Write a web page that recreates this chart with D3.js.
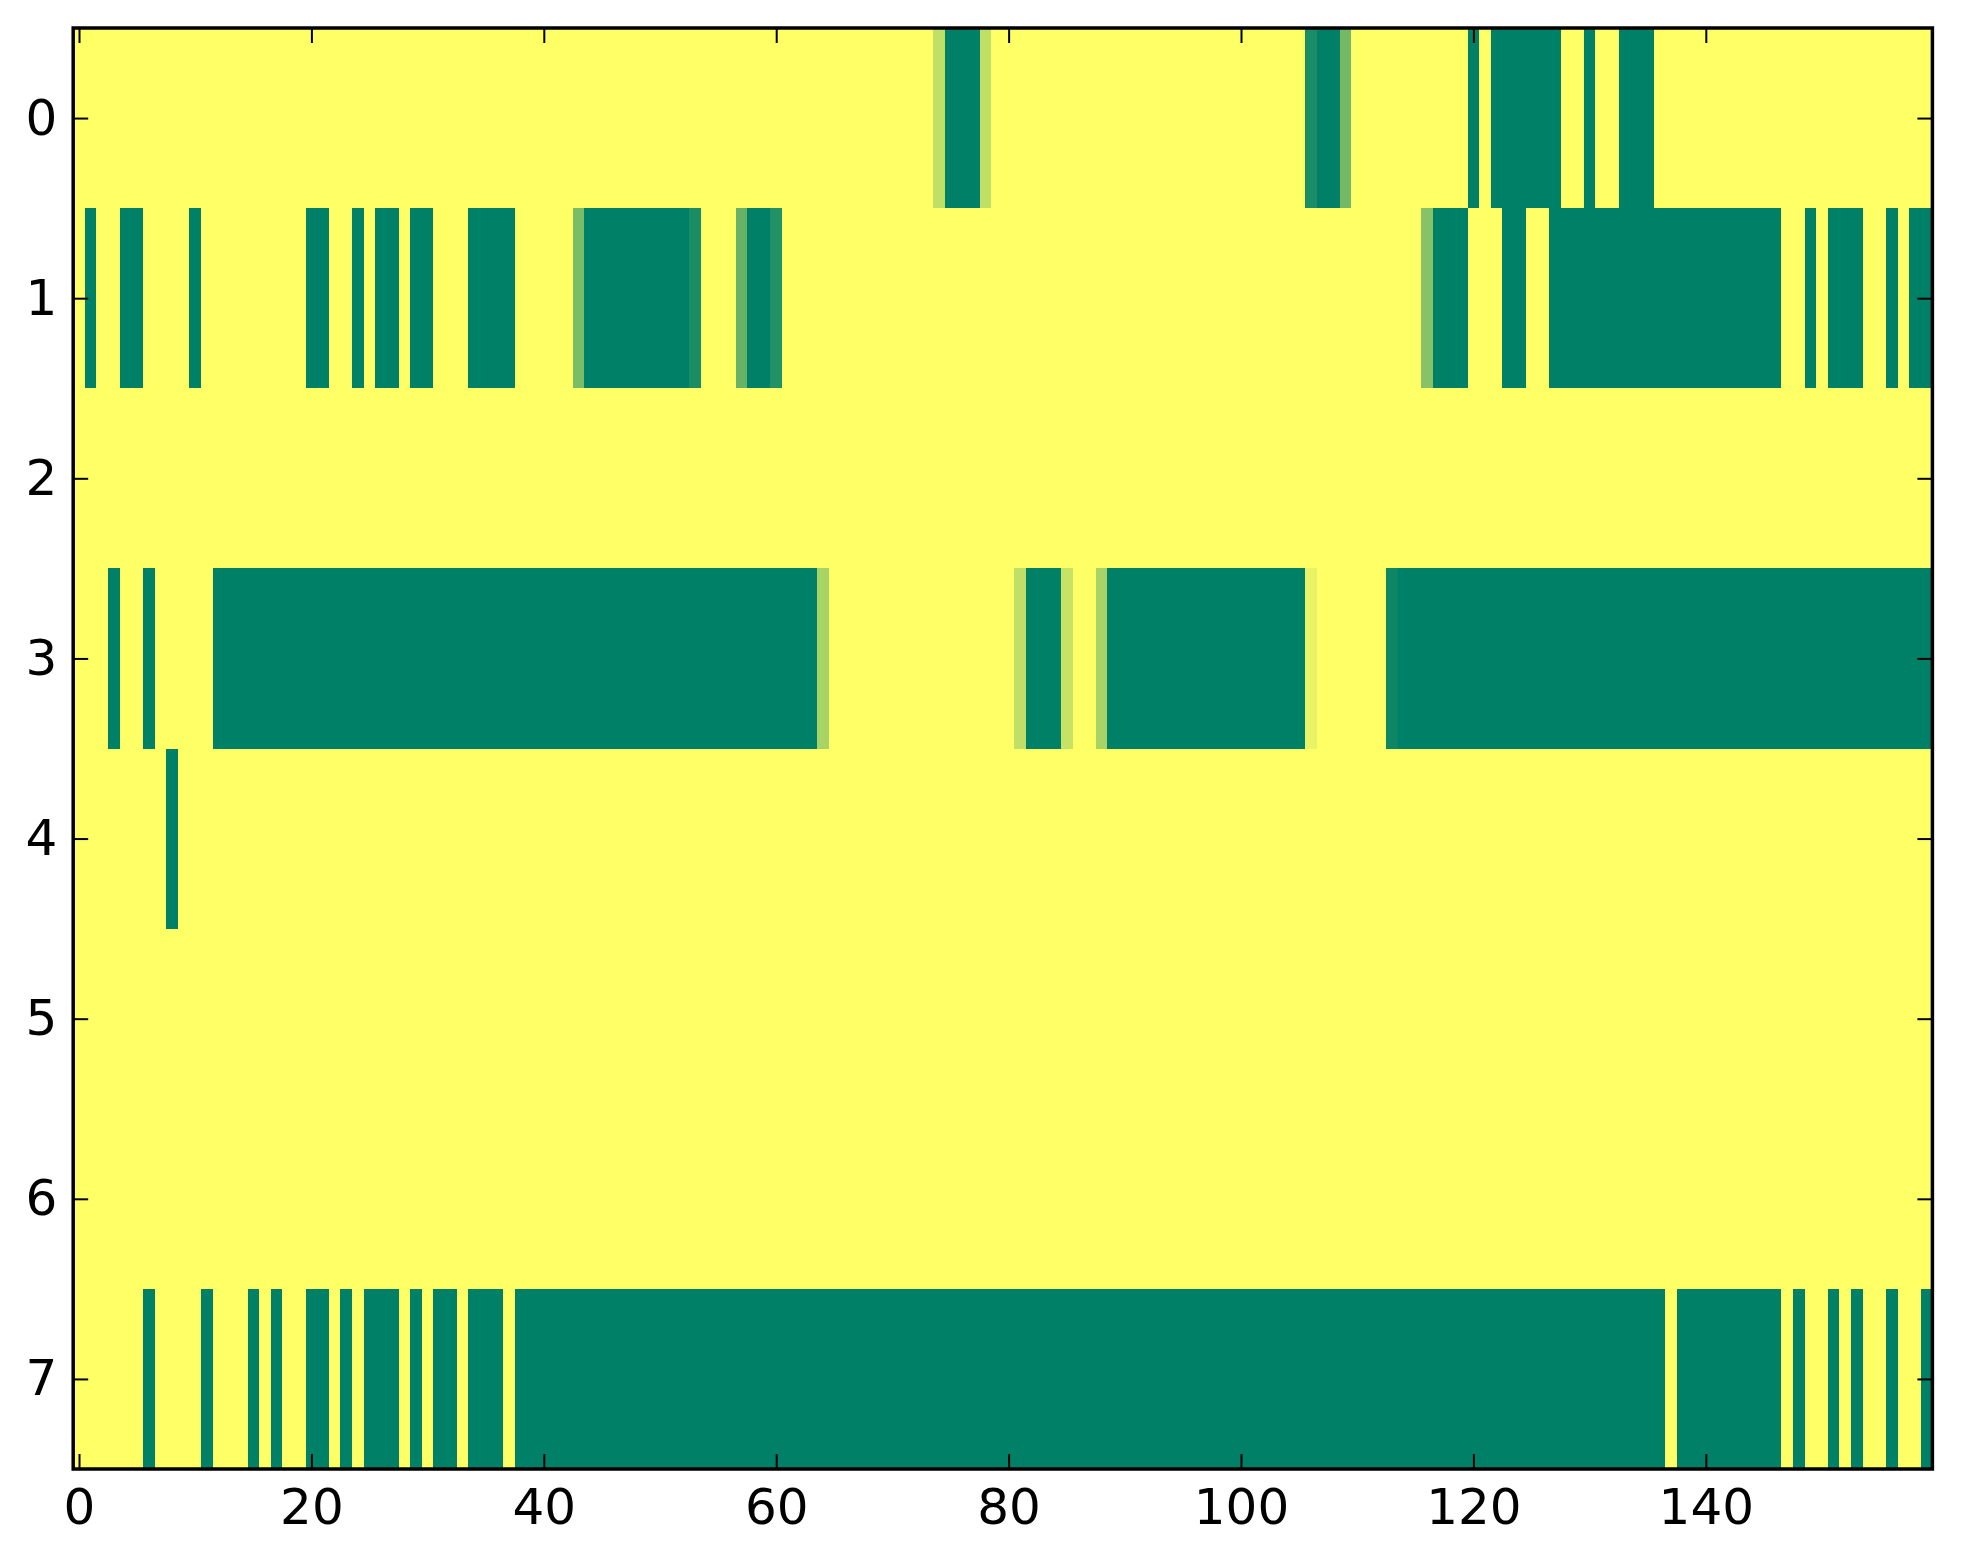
<!DOCTYPE html>
<html lang="en">
<head>
<meta charset="utf-8">
<title>imshow summer</title>
<script src="https://cdn.jsdelivr.net/npm/d3@7/dist/d3.min.js"></script>
<style>
  body { margin: 0; background: #fff; }
  .tick text { font-family: "DejaVu Sans", sans-serif; font-size: 50px; fill: #000; }
</style>
</head>
<body>
<script>
// one value per column (0 = green end, 1 = yellow end of the colormap)
var rowLabels = [0, 1, 2, 3, 4, 5, 6, 7];
var xTicks = [0, 20, 40, 60, 80, 100, 120, 140];

var row0 = [
  1,1,1,1,1,1,1,1,1,1,1,1,1,1,1,1,1,1,1,1,
  1,1,1,1,1,1,1,1,1,1,1,1,1,1,1,1,1,1,1,1,
  1,1,1,1,1,1,1,1,1,1,1,1,1,1,1,1,1,1,1,1,
  1,1,1,1,1,1,1,1,1,1,1,1,1,1,.75,0,0,0,.75,1,
  1,1,1,1,1,1,1,1,1,1,1,1,1,1,1,1,1,1,1,1,
  1,1,1,1,1,1,.1,0,0,.45,1,1,1,1,1,1,1,1,1,1,
  0,1,0,0,0,0,0,0,1,1,0,1,1,0,0,0,1,1,1,1,
  1,1,1,1,1,1,1,1,1,1,1,1,1,1,1,1,1,1,1,1
];
var row1 = [
  1,0,1,1,0,0,1,1,1,1,0,1,1,1,1,1,1,1,1,1,
  0,0,1,1,0,1,0,0,1,0,0,1,1,1,0,0,0,0,1,1,
  1,1,1,.48,0,0,0,0,0,0,0,0,0,.1,1,1,1,.4,0,0,
  .13,1,1,1,1,1,1,1,1,1,1,1,1,1,1,1,1,1,1,1,
  1,1,1,1,1,1,1,1,1,1,1,1,1,1,1,1,1,1,1,1,
  1,1,1,1,1,1,1,1,1,1,1,1,1,1,1,1,.53,0,0,0,
  1,1,1,0,0,1,1,0,0,0,0,0,0,0,0,0,0,0,0,0,
  0,0,0,0,0,0,0,1,1,0,1,0,0,0,1,1,0,1,0,0
];
var row2 = [
  1,1,1,1,1,1,1,1,1,1,1,1,1,1,1,1,1,1,1,1,
  1,1,1,1,1,1,1,1,1,1,1,1,1,1,1,1,1,1,1,1,
  1,1,1,1,1,1,1,1,1,1,1,1,1,1,1,1,1,1,1,1,
  1,1,1,1,1,1,1,1,1,1,1,1,1,1,1,1,1,1,1,1,
  1,1,1,1,1,1,1,1,1,1,1,1,1,1,1,1,1,1,1,1,
  1,1,1,1,1,1,1,1,1,1,1,1,1,1,1,1,1,1,1,1,
  1,1,1,1,1,1,1,1,1,1,1,1,1,1,1,1,1,1,1,1,
  1,1,1,1,1,1,1,1,1,1,1,1,1,1,1,1,1,1,1,1
];
var row3 = [
  1,1,1,0,1,1,0,1,1,1,1,1,0,0,0,0,0,0,0,0,
  0,0,0,0,0,0,0,0,0,0,0,0,0,0,0,0,0,0,0,0,
  0,0,0,0,0,0,0,0,0,0,0,0,0,0,0,0,0,0,0,0,
  0,0,0,0,.66,1,1,1,1,1,1,1,1,1,1,1,1,1,1,1,
  1,.75,0,0,0,.78,1,1,.66,0,0,0,0,0,0,0,0,0,0,0,
  0,0,0,0,0,0,.91,1,1,1,1,1,1,.05,0,0,0,0,0,0,
  0,0,0,0,0,0,0,0,0,0,0,0,0,0,0,0,0,0,0,0,
  0,0,0,0,0,0,0,0,0,0,0,0,0,0,0,0,0,0,0,0
];
var row4 = [
  1,1,1,1,1,1,1,1,0,1,1,1,1,1,1,1,1,1,1,1,
  1,1,1,1,1,1,1,1,1,1,1,1,1,1,1,1,1,1,1,1,
  1,1,1,1,1,1,1,1,1,1,1,1,1,1,1,1,1,1,1,1,
  1,1,1,1,1,1,1,1,1,1,1,1,1,1,1,1,1,1,1,1,
  1,1,1,1,1,1,1,1,1,1,1,1,1,1,1,1,1,1,1,1,
  1,1,1,1,1,1,1,1,1,1,1,1,1,1,1,1,1,1,1,1,
  1,1,1,1,1,1,1,1,1,1,1,1,1,1,1,1,1,1,1,1,
  1,1,1,1,1,1,1,1,1,1,1,1,1,1,1,1,1,1,1,1
];
var row5 = [
  1,1,1,1,1,1,1,1,1,1,1,1,1,1,1,1,1,1,1,1,
  1,1,1,1,1,1,1,1,1,1,1,1,1,1,1,1,1,1,1,1,
  1,1,1,1,1,1,1,1,1,1,1,1,1,1,1,1,1,1,1,1,
  1,1,1,1,1,1,1,1,1,1,1,1,1,1,1,1,1,1,1,1,
  1,1,1,1,1,1,1,1,1,1,1,1,1,1,1,1,1,1,1,1,
  1,1,1,1,1,1,1,1,1,1,1,1,1,1,1,1,1,1,1,1,
  1,1,1,1,1,1,1,1,1,1,1,1,1,1,1,1,1,1,1,1,
  1,1,1,1,1,1,1,1,1,1,1,1,1,1,1,1,1,1,1,1
];
var row6 = [
  1,1,1,1,1,1,1,1,1,1,1,1,1,1,1,1,1,1,1,1,
  1,1,1,1,1,1,1,1,1,1,1,1,1,1,1,1,1,1,1,1,
  1,1,1,1,1,1,1,1,1,1,1,1,1,1,1,1,1,1,1,1,
  1,1,1,1,1,1,1,1,1,1,1,1,1,1,1,1,1,1,1,1,
  1,1,1,1,1,1,1,1,1,1,1,1,1,1,1,1,1,1,1,1,
  1,1,1,1,1,1,1,1,1,1,1,1,1,1,1,1,1,1,1,1,
  1,1,1,1,1,1,1,1,1,1,1,1,1,1,1,1,1,1,1,1,
  1,1,1,1,1,1,1,1,1,1,1,1,1,1,1,1,1,1,1,1
];
var row7 = [
  1,1,1,1,1,1,0,1,1,1,1,0,1,1,1,0,1,0,1,1,
  0,0,1,0,1,0,0,0,1,0,1,0,0,1,0,0,0,1,0,0,
  0,0,0,0,0,0,0,0,0,0,0,0,0,0,0,0,0,0,0,0,
  0,0,0,0,0,0,0,0,0,0,0,0,0,0,0,0,0,0,0,0,
  0,0,0,0,0,0,0,0,0,0,0,0,0,0,0,0,0,0,0,0,
  0,0,0,0,0,0,0,0,0,0,0,0,0,0,0,0,0,0,0,0,
  0,0,0,0,0,0,0,0,0,0,0,0,0,0,0,0,0,1,0,0,
  0,0,0,0,0,0,0,1,0,1,1,0,1,0,1,1,0,1,1,0
];
var rows = [row0, row1, row2, row3, row4, row5, row6, row7];

(function() {
  var width = 1963, height = 1564;
  var plotLeft = 73.2, plotRight = 1932.4, plotTop = 28, plotBottom = 1469;
  var nCols = row0.length;

  var svg = d3.select("body").append("svg")
      .attr("width", width)
      .attr("height", height);

  var x = d3.scaleLinear().domain([-0.5, nCols - 0.5]).range([plotLeft, plotRight]);
  var y = d3.scaleLinear().domain([-0.5, rowLabels.length - 0.5]).range([plotTop, plotBottom]);
  // matplotlib "summer": (v, 0.5 + v/2, 0.4)
  var color = d3.scaleLinear().domain([0, 1]).range(["#008066", "#ffff66"]).interpolate(d3.interpolateRgb);

  var cells = [];
  rows.forEach(function(r, i) {
    r.forEach(function(v, j) { cells.push({row: i, col: j, v: v}); });
  });

  svg.append("g")
      .attr("shape-rendering", "crispEdges")
    .selectAll("rect")
    .data(cells)
    .enter().append("rect")
      .attr("x", function(d) { return x(d.col - 0.5); })
      .attr("y", function(d) { return y(d.row - 0.5); })
      .attr("width", function(d) { return x(d.col + 0.5) - x(d.col - 0.5) + 0.5; })
      .attr("height", function(d) { return y(d.row + 0.5) - y(d.row - 0.5) + 0.5; })
      .attr("fill", function(d) { return color(d.v); });

  // ticks point inward on all four sides
  var tickLen = 15;
  function styleAxis(g) {
    g.select(".domain").remove();
    g.selectAll(".tick line").attr("stroke", "#000").attr("stroke-width", 2);
  }

  svg.append("g")
      .attr("transform", "translate(0," + plotBottom + ")")
      .call(d3.axisBottom(x).tickValues(xTicks).tickSizeInner(-tickLen).tickSizeOuter(0).tickPadding(19))
      .call(styleAxis);
  svg.append("g")
      .attr("transform", "translate(0," + plotTop + ")")
      .call(d3.axisTop(x).tickValues(xTicks).tickSizeInner(-tickLen).tickSizeOuter(0).tickFormat(""))
      .call(styleAxis);
  svg.append("g")
      .attr("transform", "translate(" + plotLeft + ",0)")
      .call(d3.axisLeft(y).tickValues(rowLabels).tickSizeInner(-tickLen).tickSizeOuter(0).tickPadding(16))
      .call(styleAxis);
  svg.append("g")
      .attr("transform", "translate(" + plotRight + ",0)")
      .call(d3.axisRight(y).tickValues(rowLabels).tickSizeInner(-tickLen).tickSizeOuter(0).tickFormat(""))
      .call(styleAxis);

  svg.selectAll(".tick text").attr("font-family", null).attr("font-size", null);

  // frame
  svg.append("rect")
      .attr("x", plotLeft)
      .attr("y", plotTop)
      .attr("width", plotRight - plotLeft)
      .attr("height", plotBottom - plotTop)
      .attr("fill", "none")
      .attr("stroke", "#000")
      .attr("stroke-width", 3.5);
})();
</script>
</body>
</html>
